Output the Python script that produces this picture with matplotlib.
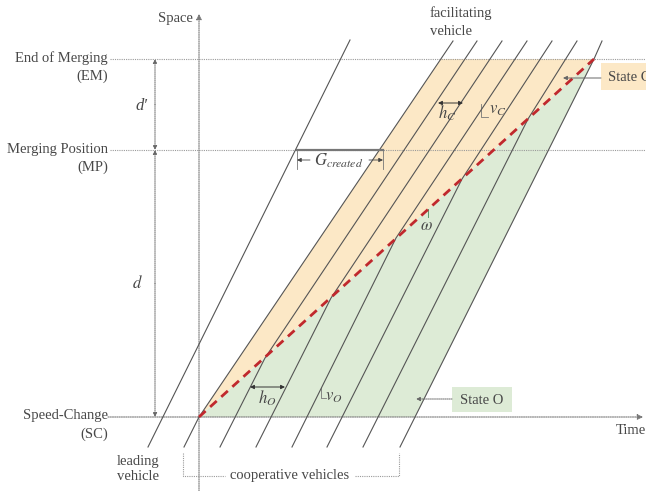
import matplotlib
matplotlib.use("Agg")
import matplotlib.pyplot as plt
from matplotlib.patches import Polygon, Rectangle

plt.rcParams["font.family"] = ["Liberation Serif", "DejaVu Serif"]
plt.rcParams["mathtext.fontset"] = "stix"

# 座標直接用圖片像素 (x 向右, y 向下)
# 參考線位置
y_em, y_mp, y_sc = 59, 150, 417
x_space = 199

# leading vehicle
lead_x = [148, 350]
lead_y = [447, 40]

# cooperative vehicles: 起點 -> 轉折點 (wave) -> 終點
coop_bottom_x = [184, 220, 256, 292, 327, 363, 400]
coop_bottom_y = [447, 447, 447, 447, 447, 447, 447]
coop_kink_x = [199, 265, 331, 396, 462, 528, 594]
coop_kink_y = [417, 358, 298, 238, 179, 119, 59]
coop_top_x = [453, 477, 502, 527, 552, 577, 602]
coop_top_y = [41, 41, 41, 41, 41, 41, 41]

# wave ω
wave_x = [199, 594]
wave_y = [417, 59]

# State C / State O 區域
state_c_x = [199, 441, 594]
state_c_y = [417, 59, 59]
state_o_x = [199, 415, 594]
state_o_y = [417, 417, 59]

yellow = "#fce8c6"
green = "#ddebd6"
grey_line = "#555555"
dot_col = "#9a9a9a"
txt = "#484848"

fig = plt.figure(figsize=(6.46, 4.91), dpi=100)
ax = fig.add_axes([0, 0, 1, 1])
ax.set_xlim(0, 646)
ax.set_ylim(491, 0)
ax.axis("off")

ax.add_patch(Polygon(list(zip(state_c_x, state_c_y)), closed=True, fc=yellow, ec="none", zorder=1))
ax.add_patch(Polygon(list(zip(state_o_x, state_o_y)), closed=True, fc=green, ec="none", zorder=1))

# 虛線參考線
dots = (0, (1, 1))
ax.plot([110, 646], [y_em, y_em], color=dot_col, lw=0.8, ls=dots, zorder=2)
ax.plot([110, 646], [y_mp, y_mp], color=dot_col, lw=0.8, ls=dots, zorder=2)
ax.annotate("", xy=(643, y_sc), xytext=(108, y_sc),
            arrowprops=dict(arrowstyle="-|>", color="#777777", lw=0.8, ls=dots,
                            mutation_scale=8, shrinkA=0, shrinkB=0), zorder=2)
ax.annotate("", xy=(x_space, 14), xytext=(x_space, 491),
            arrowprops=dict(arrowstyle="-|>", color="#777777", lw=0.8, ls=dots,
                            mutation_scale=8, shrinkA=0, shrinkB=0), zorder=2)

# d' 和 d
for y0, y1 in [(y_mp, y_em), (y_em, y_mp), (y_sc, y_mp), (y_mp, y_sc)]:
    ax.annotate("", xy=(155, y1), xytext=(155, (y0 + y1) / 2),
                arrowprops=dict(arrowstyle="-|>", color="#666666", lw=0.7, ls=dots,
                                mutation_scale=6, shrinkA=0, shrinkB=0), zorder=2)
ax.text(142, 106, "d′", fontsize=12, color=txt, ha="center", va="center", fontstyle="italic")
ax.text(137, 283, r"$d$", fontsize=12, color=txt, ha="center", va="center")

# 軌跡
ax.plot(lead_x, lead_y, color=grey_line, lw=0.8, zorder=3)
for i in range(len(coop_bottom_x)):
    ax.plot([coop_bottom_x[i], coop_kink_x[i], coop_top_x[i]],
            [coop_bottom_y[i], coop_kink_y[i], coop_top_y[i]],
            color=grey_line, lw=0.8, zorder=3)
ax.plot(wave_x, wave_y, color="#c0282d", lw=2, ls=(0, (3.2, 2.2)), zorder=4)

# 左邊的標籤
fs = 10.5
for y, a, b in [(y_em, "End of Merging", "(EM)"), (y_mp, "Merging Position", "(MP)"),
                (y_sc, "Speed-Change", "(SC)")]:
    ax.text(108, y - 1, a, fontsize=fs, color=txt, ha="right", va="center")
    ax.text(108, y + 17, b, fontsize=fs, color=txt, ha="right", va="center")

ax.text(193, 18, "Space", fontsize=fs, color=txt, ha="right", va="center")
ax.text(616, 431, "Time", fontsize=fs, color=txt, ha="left", va="center")
ax.text(430, 13, "facilitating", fontsize=fs, color=txt, ha="left", va="center")
ax.text(430, 31, "vehicle", fontsize=fs, color=txt, ha="left", va="center")
ax.text(138, 461, "leading", fontsize=fs, color=txt, ha="center", va="center")
ax.text(138, 477, "vehicle", fontsize=fs, color=txt, ha="center", va="center")
ax.text(290, 476, "cooperative vehicles", fontsize=fs, color=txt, ha="center", va="center")
ax.plot([183, 183, 225], [453, 476, 476], color=dot_col, lw=0.8, ls=dots)
ax.plot([355, 399, 399], [476, 476, 453], color=dot_col, lw=0.8, ls=dots)

# G_created
ax.plot([297, 383], [y_mp, y_mp], color="#777777", lw=1.6, zorder=3)
ax.plot([297, 297], [y_mp, 169], color="#777777", lw=0.6)
ax.plot([383, 383], [y_mp, 169], color="#777777", lw=0.6)
ax.annotate("", xy=(297, 160), xytext=(310, 160),
            arrowprops=dict(arrowstyle="-|>", color="#444444", lw=0.6, mutation_scale=6,
                            shrinkA=0, shrinkB=0))
ax.annotate("", xy=(383, 160), xytext=(369, 160),
            arrowprops=dict(arrowstyle="-|>", color="#444444", lw=0.6, mutation_scale=6,
                            shrinkA=0, shrinkB=0))
ax.text(339, 161, r"$G_{created}$", fontsize=12, color=txt, ha="center", va="center")

# h_C, v_C
ax.annotate("", xy=(438, 103), xytext=(463, 103),
            arrowprops=dict(arrowstyle="<|-|>", color="#333333", lw=0.7, mutation_scale=6,
                            shrinkA=0, shrinkB=0), zorder=5)
ax.text(447, 113, r"$h_C$", fontsize=12, color=txt, ha="center", va="center")
ax.plot([481, 481, 488], [104, 117, 117], color="#777777", lw=0.6)
ax.text(498, 110, r"$v_C$", fontsize=12, color=txt, ha="center", va="center")

# h_O, v_O
ax.annotate("", xy=(250, 387), xytext=(285, 387),
            arrowprops=dict(arrowstyle="<|-|>", color="#333333", lw=0.7, mutation_scale=6,
                            shrinkA=0, shrinkB=0), zorder=5)
ax.text(267, 398, r"$h_O$", fontsize=12, color=txt, ha="center", va="center")
ax.plot([321, 321, 326], [388, 398, 398], color="#777777", lw=0.6)
ax.text(334, 397, r"$v_O$", fontsize=12, color=txt, ha="center", va="center")

# ω
ax.plot([428, 428], [209, 217], color="#5a9a6a", lw=0.7)
ax.text(426, 226, r"$\omega$", fontsize=12, color=txt, ha="center", va="center")

# State 標籤
ax.add_patch(Rectangle((452, 387), 60, 25, fc=green, ec="none", zorder=2))
ax.text(482, 400, "State O", fontsize=fs, color=txt, ha="center", va="center", zorder=3)
ax.annotate("", xy=(416, 399), xytext=(452, 399),
            arrowprops=dict(arrowstyle="-|>", color="#666666", lw=0.7, ls=dots,
                            mutation_scale=6, shrinkA=0, shrinkB=0), zorder=5)
ax.add_patch(Rectangle((601, 63), 60, 27, fc=yellow, ec="none", zorder=2, clip_on=True))
ax.text(608, 77, "State C", fontsize=fs, color=txt, ha="left", va="center", zorder=3)
ax.annotate("", xy=(563, 78), xytext=(601, 78),
            arrowprops=dict(arrowstyle="-|>", color="#666666", lw=0.7,
                            mutation_scale=6, shrinkA=0, shrinkB=0), zorder=5)

fig.savefig("out.png", dpi=100)
